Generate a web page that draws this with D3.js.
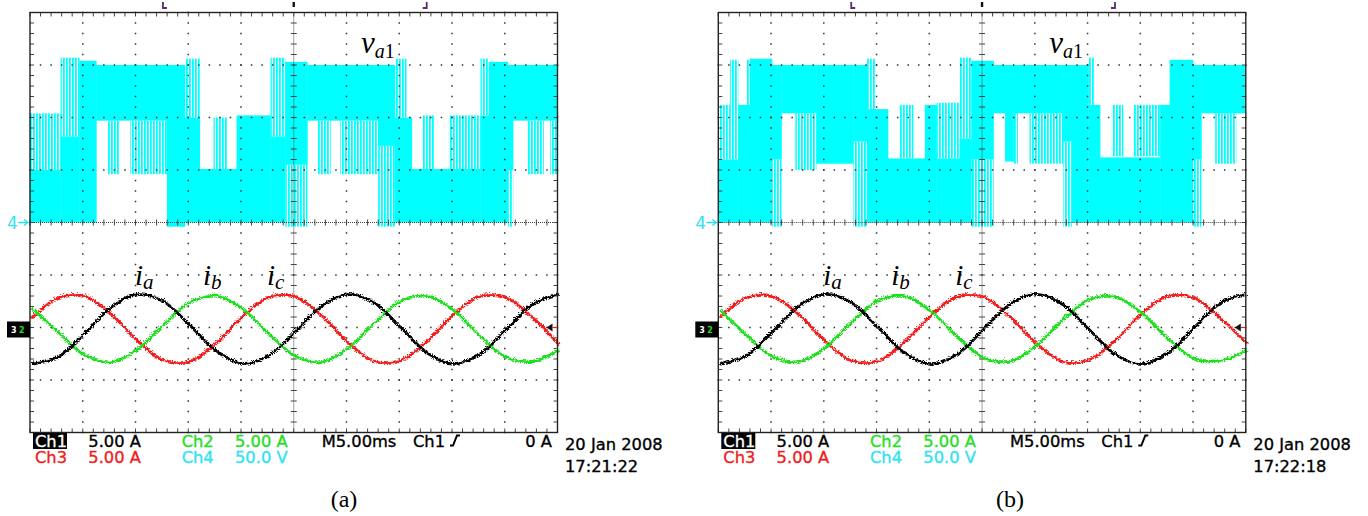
<!DOCTYPE html>
<html>
<head>
<meta charset="utf-8">
<script src="https://cdn.jsdelivr.net/npm/d3@7"></script>
<style>
  body { margin: 0; background: #fff; }
  svg { display: block; }
</style>
</head>
<body>
<svg id="chart" width="1368" height="516"></svg>
<script>
// sample times (ms) for the phase currents, 10 div x 5 ms/div
const sampleT = [0, 2.5, 5, 7.5, 10, 12.5, 15, 17.5, 20, 22.5, 25, 27.5, 30, 32.5, 35, 37.5, 40, 42.5, 45, 47.5, 50];

// phase currents (A), panel (a)
const iaA = [-3.29, -2.68, -0.47, 2.02, 3.30, 2.63, 0.37, -2.09, -3.31, -2.55, -0.26, 2.18, 3.32, 2.48, 0.16, -2.26, -3.33, -2.41, -0.05, 2.34, 3.33];
const ibA = [2.0, -0.26, -2.45, -3.18, -2.02, 0.35, 2.52, 3.17, 1.94, -0.46, -2.58, -3.16, -1.85, 0.55, 2.64, 3.14, 1.78, -0.66, -2.69, -3.12, -2.0];
const icA = [0.98, 2.93, 3.14, 1.47, -1.08, -2.98, -3.10, -1.37, 1.17, 3.02, 3.06, 1.28, -1.28, -3.07, -3.02, -1.18, 1.37, 3.10, 2.98, 1.08, -1.47];

// phase currents (A), panel (b)
const iaB = [-3.33, -2.57, -0.27, 2.19, 3.34, 2.50, 0.16, -2.27, -3.35, -2.42, -0.05, 2.35, 3.35, 2.36, -0.05, -2.42, -3.35, -2.27, 0.16, 2.50, 3.34];
const ibB = [1.86, -0.56, -2.63, -3.14, -1.77, 0.65, 2.69, 3.12, 1.69, -0.75, -2.75, -3.10, -1.59, 0.85, 2.80, 3.07, 1.51, -0.95, -2.84, -3.04, -2.0];
const icB = [1.08, 2.98, 3.10, 1.37, -1.18, -3.02, -3.07, -1.28, 1.28, 3.06, 3.02, 1.18, -1.37, -3.10, -2.98, -1.08, 1.47, 3.14, 2.93, 0.98, -1.4];

// PWM voltage v_a1 envelope: [t start ms, t end ms, low V, high V]
// "solid" = dense switching band, "hatch" = sparse switching pulses
const vSolidA = [
  [0, 2.9, 0, 50], [2.9, 4.7, 0, 82], [4.7, 6.3, 0, 154], [6.3, 13.0, 97, 150],
  [13.0, 14.7, -4, 150], [14.7, 16.1, 0, 100], [16.1, 19.6, 0, 51], [19.6, 22.8, 0, 102],
  [22.8, 24.2, 0, 82], [24.2, 26.3, 55, 153], [26.3, 33.0, 97, 150], [33.0, 34.6, 73, 150],
  [34.6, 36.2, 0, 100], [36.2, 42.7, 0, 51], [42.7, 43.5, 0, 102], [43.5, 45.3, 0, 153],
  [45.3, 45.8, 50, 150], [45.8, 50, 97, 150]
];
const vHatchA = [
  [0, 2.9, 50, 104], [2.9, 4.7, 82, 157], [7.3, 8.5, 46, 97], [9.5, 13.0, 46, 97],
  [14.7, 16.1, 100, 156], [17.4, 18.7, 51, 100], [22.8, 24.2, 82, 157], [24.2, 26.3, -4, 55],
  [27.2, 28.5, 46, 97], [29.4, 33.0, 46, 97], [33.0, 34.6, -4, 73], [34.6, 35.7, 100, 156],
  [37.2, 38.3, 51, 102], [39.7, 42.7, 51, 102], [42.7, 43.5, 102, 156], [45.3, 45.8, -4, 50],
  [47.1, 48.7, 46, 97], [49.3, 50, 46, 97]
];
const vSolidB = [
  [0, 1.9, 0, 60], [1.9, 3.0, 0, 112], [3.0, 5.1, 0, 156], [5.1, 6.0, 60, 150],
  [6.0, 9.3, 104, 150], [9.3, 12.8, 56, 150], [12.8, 14.1, 77, 150], [14.1, 16.1, 0, 108],
  [16.1, 19.6, 0, 61], [19.6, 20.7, 0, 112], [20.7, 22.9, 0, 61], [22.9, 24.0, 0, 80],
  [24.0, 26.1, 60, 154], [26.1, 27.2, 104, 150], [27.2, 28.0, 58, 150], [28.0, 32.7, 104, 150],
  [32.7, 33.5, 77, 150], [33.5, 35.1, 0, 150], [35.1, 36.2, 0, 112], [36.2, 41.9, 0, 62],
  [41.9, 42.8, 0, 112], [42.8, 45.0, 0, 155], [45.0, 45.8, 60, 150], [45.8, 50, 104, 150]
];
const vHatchB = [
  [0, 1.1, 60, 112], [1.1, 1.9, 60, 155], [2.7, 3.0, 112, 155], [5.1, 6.0, -4, 60],
  [7.3, 9.3, 50, 104], [12.8, 14.1, -4, 77], [14.1, 14.9, 108, 156], [17.2, 18.5, 61, 112],
  [20.7, 22.9, 61, 114], [22.9, 24.0, 80, 157], [24.0, 26.1, -4, 60], [28.0, 28.4, 56, 104],
  [29.5, 32.7, 56, 104], [32.7, 33.5, -4, 77], [35.1, 35.7, 112, 157], [37.3, 38.4, 63, 112],
  [39.3, 41.9, 63, 112], [45.0, 45.8, -4, 60], [47.1, 49.1, 56, 104]
];

// scope readout text
const chNames = ['Ch1', 'Ch2', 'Ch3', 'Ch4'];
const chScales = ['5.00 A', '5.00 A', '5.00 A', '50.0 V'];
const timebase = 'M5.00ms';
const trigSource = 'Ch1';
const trigLevel = '0 A';
const dates = ['20 Jan 2008', '20 Jan 2008'];
const times = ['17:21:22', '17:22:18'];
const captions = ['(a)', '(b)'];

const COL = { ch1: '#000000', ch2: '#1fe01f', ch3: '#f21c1c', ch4: '#00ffff', ch4text: '#2fe3f2' };

const svg = d3.select('#chart');
const defs = svg.append('defs');

const pat = defs.append('pattern')
    .attr('id', 'hatch')
    .attr('patternUnits', 'userSpaceOnUse')
    .attr('width', 3)
    .attr('height', 10);
pat.append('rect').attr('x', 0).attr('y', 0).attr('width', 1.8).attr('height', 10).attr('fill', COL.ch4);

const filt = defs.append('filter')
    .attr('id', 'noise')
    .attr('x', '-2%').attr('y', '-15%').attr('width', '104%').attr('height', '130%');
filt.append('feTurbulence')
    .attr('type', 'turbulence')
    .attr('baseFrequency', '0.9 0.5')
    .attr('numOctaves', 1)
    .attr('seed', 4)
    .attr('result', 'turb');
filt.append('feDisplacementMap')
    .attr('in', 'SourceGraphic')
    .attr('in2', 'turb')
    .attr('scale', 4)
    .attr('xChannelSelector', 'R')
    .attr('yChannelSelector', 'G');

const panels = [
    { left: 30, solid: vSolidA, hatch: vHatchA, ia: iaA, ib: ibA, ic: icA, date: dates[0], time: times[0], caption: captions[0], capX: 344 },
    { left: 718.3, solid: vSolidB, hatch: vHatchB, ia: iaB, ib: ibB, ic: icB, date: dates[1], time: times[1], caption: captions[1], capX: 1010 }
];

panels.forEach(drawScope);

function drawScope(p) {
    const g = svg.append('g');
    const x = d3.scaleLinear().domain([0, 50]).range([p.left, p.left + 527.5]);
    const y = d3.scaleLinear().domain([-4, 4]).range([432.5, 12.5]);
    const vY = v => y(v / 50);          // Ch4: 50 V/div, ground at centre
    const iY = i => y(i / 5 - 2);       // Ch1-3: 5 A/div, ground 2 div below centre

    // voltage v_a1
    g.append('g').selectAll('rect')
        .data(p.hatch)
        .join('rect')
        .attr('x', d => x(d[0]))
        .attr('y', d => vY(d[3]))
        .attr('width', d => x(d[1]) - x(d[0]))
        .attr('height', d => vY(d[2]) - vY(d[3]))
        .attr('fill', 'url(#hatch)');

    g.append('g').selectAll('rect')
        .data(p.solid)
        .join('rect')
        .attr('x', d => x(d[0]) - 0.2)
        .attr('y', d => vY(d[3]))
        .attr('width', d => x(d[1]) - x(d[0]) + 0.4)
        .attr('height', d => vY(d[2]) - vY(d[3]))
        .attr('fill', COL.ch4);

    drawGrid(g, x, y);

    // phase currents
    const series = [
        { vals: p.ic, col: COL.ch3 },
        { vals: p.ib, col: COL.ch2 },
        { vals: p.ia, col: COL.ch1 }
    ];
    const line = d3.line()
        .x((d, i) => x(sampleT[i]))
        .y(d => iY(d))
        .curve(d3.curveCatmullRom.alpha(0.5));
    series.forEach(s => {
        g.append('path')
            .attr('d', line(s.vals))
            .attr('fill', 'none')
            .attr('stroke', s.col)
            .attr('stroke-width', 2.8)
            .attr('filter', 'url(#noise)');
    });

    // border
    g.append('rect')
        .attr('x', x(0)).attr('y', y(4))
        .attr('width', x(50) - x(0)).attr('height', y(-4) - y(4))
        .attr('fill', 'none').attr('stroke', '#222').attr('stroke-width', 1.4);

    // top markers (window + trigger position)
    g.append('path')
        .attr('d', `M${x(12.6)},2 v6 h4`)
        .attr('fill', 'none').attr('stroke', '#5a2d6e').attr('stroke-width', 1.8);
    g.append('path')
        .attr('d', `M${x(37.6)},2 v6 h-4`)
        .attr('fill', 'none').attr('stroke', '#5a2d6e').attr('stroke-width', 1.8);
    g.append('rect')
        .attr('x', x(25) - 1.2).attr('y', 2).attr('width', 2.4).attr('height', 5).attr('fill', '#111');

    // Ch4 ground marker
    g.append('text')
        .attr('x', x(0) - 23).attr('y', y(0) + 6.5)
        .attr('font-family', 'DejaVu Sans, sans-serif').attr('font-size', 17)
        .attr('fill', COL.ch4text).text('4');
    g.append('path')
        .attr('d', `M${x(0) - 12},${y(0)} H${x(0) - 2} M${x(0) - 6},${y(0) - 3} L${x(0) - 2},${y(0)} L${x(0) - 6},${y(0) + 3}`)
        .attr('fill', 'none').attr('stroke', COL.ch4text).attr('stroke-width', 1.5);

    // Ch1/2/3 ground marker
    const gy = iY(0);
    g.append('rect')
        .attr('x', x(0) - 23).attr('y', gy - 6).attr('width', 23).attr('height', 16).attr('fill', '#000');
    g.append('text')
        .attr('x', x(0) - 19).attr('y', gy + 5)
        .attr('font-family', 'DejaVu Sans, sans-serif').attr('font-size', 8).attr('font-weight', 'bold')
        .attr('fill', '#fff').text('3');
    g.append('text')
        .attr('x', x(0) - 11).attr('y', gy + 5)
        .attr('font-family', 'DejaVu Sans, sans-serif').attr('font-size', 8).attr('font-weight', 'bold')
        .attr('fill', COL.ch2).text('2');

    // trigger level marker on the right
    g.append('path')
        .attr('d', `M${x(50) - 11},${gy} l6,-4 v8 z`)
        .attr('fill', '#111');
    g.append('line')
        .attr('x1', x(50) - 5).attr('x2', x(50))
        .attr('y1', gy).attr('y2', gy)
        .attr('stroke', COL.ch3).attr('stroke-width', 1.2);

    // trace labels
    const serif = 'Liberation Serif, Times New Roman, serif';
    const vl = g.append('text').attr('x', p.left + 331).attr('y', 53).attr('font-family', serif).attr('fill', '#000');
    vl.append('tspan').attr('font-style', 'italic').attr('font-size', 31).text('v');
    vl.append('tspan').attr('font-style', 'italic').attr('font-size', 20).attr('dy', 5).text('a');
    vl.append('tspan').attr('font-size', 20).text('1');

    [['a', 105], ['b', 173], ['c', 237]].forEach(([s, dx]) => {
        const t = g.append('text').attr('x', p.left + dx).attr('y', 285).attr('font-family', serif).attr('fill', '#000');
        t.append('tspan').attr('font-style', 'italic').attr('font-size', 29).text('i');
        t.append('tspan').attr('font-style', 'italic').attr('font-size', 21).attr('dy', 4).text(s);
    });

    // readout
    const ox = p.left - 30;
    const sans = 'DejaVu Sans, Verdana, sans-serif';
    const fs = 16.3;
    const r1 = 446.5, r2 = 463;
    const txt = (tx, ty, s, col, anchor) => g.append('text')
        .attr('x', ox + tx).attr('y', ty)
        .attr('font-family', sans).attr('font-size', fs)
        .attr('text-anchor', anchor || 'start')
        .attr('fill', col)
        .attr('stroke', col).attr('stroke-width', 0.35)
        .text(s);

    g.append('rect').attr('x', ox + 33).attr('y', 433).attr('width', 34).attr('height', 16).attr('fill', '#000');
    txt(35, r1, chNames[0], '#fff');
    txt(88.3, r1, chScales[0], COL.ch1);
    txt(181.7, r1, chNames[1], COL.ch2);
    txt(235, r1, chScales[1], COL.ch2);
    txt(35, r2, chNames[2], COL.ch3);
    txt(88.3, r2, chScales[2], COL.ch3);
    txt(181.7, r2, chNames[3], COL.ch4text);
    txt(235, r2, chScales[3], COL.ch4text);
    txt(321.7, r1, timebase, '#000');
    txt(413, r1, trigSource, '#000');
    g.append('path')
        .attr('d', `M${ox + 450},${r1 - 1} h3 l4,-10 h3`)
        .attr('fill', 'none').attr('stroke', '#000').attr('stroke-width', 2);
    txt(552, r1, trigLevel, '#000', 'end');
    txt(565, 450, p.date, '#000');
    txt(565, 471.7, p.time, '#000');

    g.append('text')
        .attr('x', p.capX).attr('y', 507)
        .attr('text-anchor', 'middle')
        .attr('font-family', serif).attr('font-size', 24)
        .attr('fill', '#000').text(p.caption);
}

function drawGrid(g, x, y) {
    const gg = g.append('g');
    const msMinor = d3.range(0, 50.001, 1);
    const divMinor = d3.range(-4, 4.001, 0.2);
    const dot = 1.5;

    // dotted major lines
    [5, 10, 15, 20, 30, 35, 40, 45].forEach(t => {
        gg.append('g').selectAll('rect').data(divMinor).join('rect')
            .attr('x', x(t) - dot / 2).attr('y', d => y(d) - dot / 2)
            .attr('width', dot).attr('height', dot).attr('fill', '#333');
    });
    [-3, -2, -1, 1, 2, 3].forEach(v => {
        gg.append('g').selectAll('rect').data(msMinor).join('rect')
            .attr('x', d => x(d) - dot / 2).attr('y', y(v) - dot / 2)
            .attr('width', dot).attr('height', dot).attr('fill', '#333');
    });

    // centre axes: fine dotted with minor ticks
    gg.append('line')
        .attr('x1', x(0)).attr('x2', x(50)).attr('y1', y(0)).attr('y2', y(0))
        .attr('stroke', '#444').attr('stroke-width', 1).attr('stroke-dasharray', '1 1');
    gg.append('line')
        .attr('x1', x(25)).attr('x2', x(25)).attr('y1', y(4)).attr('y2', y(-4))
        .attr('stroke', '#444').attr('stroke-width', 1).attr('stroke-dasharray', '1 1');
    gg.append('g').selectAll('line').data(msMinor).join('line')
        .attr('x1', d => x(d)).attr('x2', d => x(d))
        .attr('y1', y(0) - 3).attr('y2', y(0) + 3)
        .attr('stroke', '#444').attr('stroke-width', 1);
    gg.append('g').selectAll('line').data(divMinor).join('line')
        .attr('x1', x(25) - 3).attr('x2', x(25) + 3)
        .attr('y1', d => y(d)).attr('y2', d => y(d))
        .attr('stroke', '#444').attr('stroke-width', 1);

    // edge ticks
    gg.append('g').selectAll('line').data(msMinor).join('line')
        .attr('x1', d => x(d)).attr('x2', d => x(d))
        .attr('y1', y(4)).attr('y2', y(4) + 4)
        .attr('stroke', '#444');
    gg.append('g').selectAll('line').data(msMinor).join('line')
        .attr('x1', d => x(d)).attr('x2', d => x(d))
        .attr('y1', y(-4) - 4).attr('y2', y(-4))
        .attr('stroke', '#444');
    gg.append('g').selectAll('line').data(divMinor).join('line')
        .attr('x1', x(0)).attr('x2', x(0) + 4)
        .attr('y1', d => y(d)).attr('y2', d => y(d))
        .attr('stroke', '#444');
    gg.append('g').selectAll('line').data(divMinor).join('line')
        .attr('x1', x(50) - 4).attr('x2', x(50))
        .attr('y1', d => y(d)).attr('y2', d => y(d))
        .attr('stroke', '#444');
}
</script>
</body>
</html>
